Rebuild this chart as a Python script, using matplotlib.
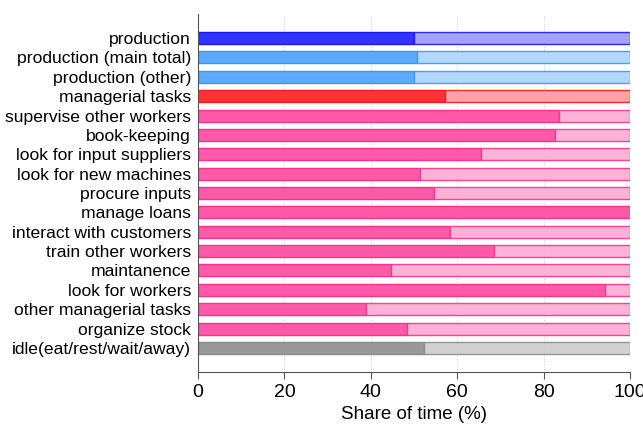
import matplotlib.pyplot as plt

plt.rcParams['font.family'] = ['Liberation Sans', 'DejaVu Sans']

tasks = ["production", "production (main total)", "production (other)",
         "managerial tasks", "supervise other workers", "book-keeping",
         "look for input suppliers", "look for new machines", "procure inputs",
         "manage loans", "interact with customers", "train other workers",
         "maintanence", "look for workers", "other managerial tasks",
         "organize stock", "idle(eat/rest/wait/away)"]
share = [50.0, 50.6, 49.9, 57.2, 83.5, 82.6, 65.5, 51.4, 54.6, 99.9,
         58.3, 68.5, 44.7, 94.2, 39.0, 48.4, 52.3]
group = ["prod", "sub", "sub", "man"] + ["mansub"] * 12 + ["idle"]

# (dark fill, light fill, edge)
palette = {
    "prod": ("#3333ff", "#9999ff", "#1a1aee"),
    "sub": ("#5aabff", "#aad4ff", "#3a97f0"),
    "man": ("#ff3333", "#ff9999", "#f01a1a"),
    "mansub": ("#ff5aa8", "#ffaad4", "#f5338f"),
    "idle": ("#999999", "#cccccc", "#8a8a8a"),
}

fig = plt.figure(figsize=(6.43, 4.24), dpi=100)
ax = fig.add_axes([198 / 643, 52 / 424, 432 / 643, 358 / 424])

ypos = list(range(len(tasks)))
for y, s, g in zip(ypos, share, group):
    dark, light, edge = palette[g]
    ax.barh(y, s, height=0.62, color=dark, edgecolor=edge, linewidth=1)
    ax.barh(y, 100 - s, left=s, height=0.62, color=light, edgecolor=edge,
            linewidth=1, alpha=0.9)

ax.set_ylim(len(tasks) - 1 + 1.24, -1.24)
ax.set_xlim(0, 100)
ax.set_yticks(ypos)
ax.set_yticklabels(tasks, fontsize=12.6)
ax.tick_params(axis='y', length=0, pad=5)
ax.set_xticks([0, 20, 40, 60, 80, 100])
ax.tick_params(axis='x', labelsize=14, color='#555555', length=5)
ax.set_xlabel("Share of time (%)", fontsize=13.5, labelpad=4)
ax.xaxis.grid(True, linestyle=':', color='#cccccc', linewidth=0.7)
ax.set_axisbelow(True)
for side in ['top', 'right']:
    ax.spines[side].set_visible(False)
for side in ['left', 'bottom']:
    ax.spines[side].set_color('#555555')

fig.savefig('out.png', dpi=100)
